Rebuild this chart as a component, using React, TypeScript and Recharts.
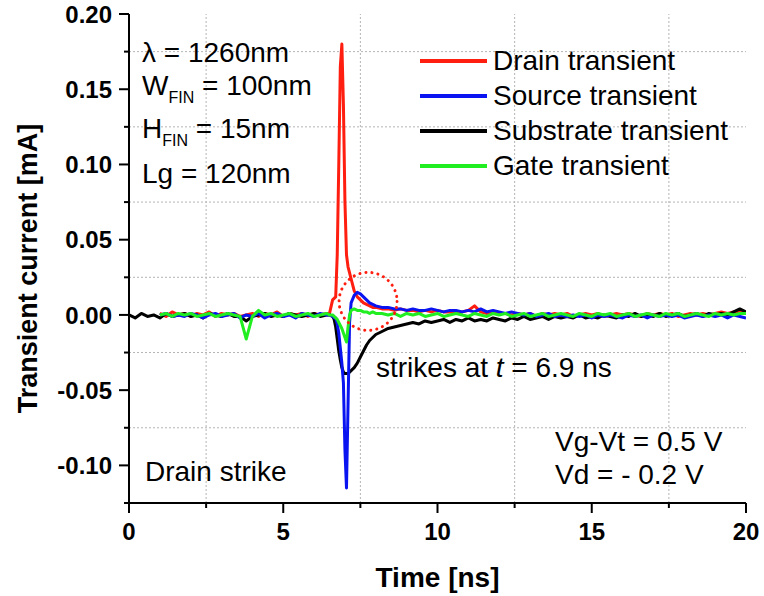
import React from 'react';
import { LineChart, Line, XAxis, YAxis, ReferenceLine, ReferenceDot, Legend } from 'recharts';

const FONT = '"Liberation Sans", Arial, Helvetica, sans-serif';

// time axis (ns)
const TIME_NS = [
  0, 0.2, 0.4, 0.6, 0.8, 1.0, 1.2, 1.4, 1.6, 1.8, 2.0, 2.2, 2.4, 2.6, 2.8, 3.0, 3.2, 3.4, 3.6, 3.8, 4.0, 4.2, 4.4, 4.6, 4.8, 5.0, 5.2, 5.4, 5.6, 5.8, 6.0, 6.2, 6.4,
  6.5, 6.6, 6.65, 6.7, 6.75, 6.8, 6.85, 6.9, 6.95, 7.0, 7.05, 7.1, 7.15, 7.2, 7.3, 7.4, 7.5, 7.6, 7.7, 7.8, 7.9, 8.0,
  8.2, 8.4, 8.6, 8.8, 9.0, 9.2, 9.4, 9.6, 9.8, 10.0, 10.2, 10.4, 10.6, 10.8, 11.0, 11.2, 11.4, 11.6, 11.8, 12.0,
  12.2, 12.4, 12.6, 12.8, 13.0, 13.2, 13.4, 13.6, 13.8, 14.0, 14.2, 14.4, 14.6, 14.8, 15.0, 15.2, 15.4, 15.6, 15.8, 16.0,
  16.2, 16.4, 16.6, 16.8, 17.0, 17.2, 17.4, 17.6, 17.8, 18.0, 18.2, 18.4, 18.6, 18.8, 19.0, 19.2, 19.4, 19.6, 19.8, 20.0,
];

// currents (mA)
const DRAIN_MA = [
  null, null, null, null, null,
  0.001, -0.001, 0.002, 0.000, 0.001, -0.001, 0.001, 0.000, 0.002, -0.001, 0.001, 0.000, 0.001, -0.001, 0.000, 0.001, -0.001, 0.001, 0.000, 0.002, -0.001, 0.001, 0.000, 0.001, -0.001, 0.001, 0.000, 0.001,
  0.001, 0.010, 0.011, 0.012, 0.040, 0.100, 0.165, 0.180, 0.140, 0.075, 0.040, 0.032, 0.028, 0.024, 0.016, 0.012, 0.010, 0.008, 0.007, 0.006, 0.005, 0.005,
  0.004, 0.004, 0.003, 0.004, 0.003, 0.003, 0.002, 0.003, 0.002, 0.003, 0.002, 0.002, 0.001, 0.002, 0.003, 0.006, 0.002, 0.001, 0.002, 0.001,
  0.001, 0.000, 0.001, 0.000, 0.001, -0.001, 0.001, 0.000, 0.001, 0.000, 0.001, -0.001, 0.000, 0.001, 0.000, 0.001, -0.001, 0.000, 0.001, 0.000,
  0.001, 0.000, -0.001, 0.001, 0.000, 0.001, 0.000, 0.001, -0.001, 0.000, 0.001, 0.000, 0.001, 0.000, 0.001, 0.002, 0.001, 0.002, 0.002, 0.001,
];

const SOURCE_MA = [
  null, null, null, null, null,
  0.000, 0.001, -0.001, 0.000, -0.001, 0.001, 0.000, -0.002, 0.000, 0.001, -0.001, 0.000, 0.001, -0.002, 0.000, -0.001, 0.001, -0.002, 0.000, 0.001, -0.001, 0.000, -0.002, 0.001, 0.000, -0.001, 0.001, 0.000,
  0.000, -0.001, -0.002, -0.002, -0.006, -0.012, -0.022, -0.032, -0.045, -0.090, -0.115, -0.060, -0.005, 0.008, 0.013, 0.015, 0.014, 0.012, 0.010, 0.008, 0.007, 0.006,
  0.005, 0.005, 0.004, 0.004, 0.003, 0.004, 0.003, 0.003, 0.004, 0.003, 0.002, 0.003, 0.003, 0.002, 0.003, 0.002, 0.004, 0.002, 0.003, 0.002,
  0.001, 0.002, 0.001, 0.000, 0.001, -0.001, 0.000, 0.001, -0.001, 0.000, -0.001, 0.000, -0.001, 0.000, -0.002, 0.000, -0.001, 0.000, -0.001, -0.002,
  0.000, -0.001, 0.000, -0.002, 0.000, -0.001, 0.000, -0.001, 0.000, -0.002, -0.001, 0.000, -0.001, 0.000, -0.001, 0.000, -0.002, 0.000, -0.001, -0.002,
];

const SUBSTRATE_MA = [
  0.000, -0.002, 0.001, -0.001, 0.000, -0.002, 0.001, -0.001, 0.000, 0.001, -0.001, 0.000, -0.002, 0.001, 0.000, -0.001, 0.001, -0.001, -0.001, -0.004, -0.001, 0.000, 0.001, -0.001, 0.000, -0.001, 0.001, 0.000, -0.001, 0.000, 0.001, -0.001, 0.000,
  0.000, -0.001, -0.003, -0.008, -0.016, -0.024, -0.030, -0.035, -0.038, -0.039, -0.039, -0.039, -0.038, -0.037, -0.035, -0.032, -0.028, -0.024, -0.020, -0.017, -0.015, -0.013,
  -0.011, -0.009, -0.008, -0.007, -0.006, -0.005, -0.006, -0.004, -0.005, -0.004, -0.003, -0.005, -0.003, -0.004, -0.002, -0.004, -0.003, -0.004, -0.002, -0.003,
  -0.004, -0.002, -0.003, -0.001, -0.003, -0.002, -0.001, -0.003, -0.001, -0.002, -0.001, -0.002, 0.000, -0.002, -0.001, -0.002, 0.000, -0.001, -0.002, 0.000,
  -0.001, 0.001, -0.001, 0.000, -0.001, 0.001, -0.001, 0.000, 0.001, -0.001, 0.000, 0.001, -0.001, 0.001, 0.000, 0.001, 0.000, 0.002, 0.004, 0.002,
];

const GATE_MA = [
  null, null, null, null, null,
  0.000, 0.001, -0.001, 0.001, 0.000, 0.001, -0.001, 0.000, 0.001, -0.001, 0.000, 0.001, 0.000, -0.001, -0.016, -0.001, 0.003, 0.000, 0.001, -0.001, 0.000, 0.001, -0.001, 0.000, 0.001, -0.001, 0.000, 0.001,
  0.000, 0.000, -0.001, -0.002, -0.003, -0.005, -0.007, -0.009, -0.012, -0.015, -0.018, -0.008, 0.000, 0.003, 0.004, 0.003, 0.003, 0.002, 0.002, 0.001, 0.002, 0.001,
  0.001, 0.000, 0.001, -0.001, 0.001, 0.000, 0.001, -0.001, 0.000, 0.001, -0.001, 0.000, 0.001, 0.000, -0.001, 0.001, 0.000, -0.001, 0.001, 0.000,
  0.001, -0.001, 0.000, 0.001, -0.001, 0.000, 0.001, -0.001, 0.000, 0.001, 0.000, -0.001, 0.001, 0.000, -0.001, 0.001, 0.000, 0.001, -0.001, 0.000,
  0.001, -0.001, 0.000, 0.001, 0.000, -0.001, 0.001, 0.000, 0.001, -0.001, 0.000, 0.001, 0.000, -0.001, 0.001, 0.000, 0.001, 0.000, 0.001, 0.001,
];

const X_DOMAIN = [0, 20];
const Y_DOMAIN = [-0.125, 0.2];
const X_TICKS = [0, 2.5, 5, 7.5, 10, 12.5, 15, 17.5, 20];
const X_GRID = [2.5, 7.5, 12.5, 17.5];
const Y_TICKS = [-0.125, -0.1, -0.075, -0.05, -0.025, 0, 0.025, 0.05, 0.075, 0.1, 0.125, 0.15, 0.175, 0.2];
const Y_GRID = [-0.075, -0.025, 0.025, 0.075, 0.125, 0.175];
const HIGHLIGHT_T = 7.75;
const HIGHLIGHT_I = 0.009;

const SERIES = [
  { key: 'drain', name: 'Drain transient', color: '#ff1e10' },
  { key: 'source', name: 'Source transient', color: '#0a14f0' },
  { key: 'substrate', name: 'Substrate transient', color: '#000000' },
  { key: 'gate', name: 'Gate transient', color: '#20ee20' },
];
const DRAW_ORDER = ['drain', 'substrate', 'source', 'gate'];

const ROWS = TIME_NS.map((t, i) => ({
  t,
  drain: DRAIN_MA[i],
  source: SOURCE_MA[i],
  substrate: SUBSTRATE_MA[i],
  gate: GATE_MA[i],
}));

const isMajorX = (v: number) => Math.abs(v / 5 - Math.round(v / 5)) < 1e-9;
const isMajorY = (v: number) => Math.abs(v * 20 - Math.round(v * 20)) < 1e-9;

const BottomTick = (p: any) => {
  const v = p.payload.value;
  const major = isMajorX(v);
  return (
    <g>
      <line x1={p.x} x2={p.x} y1={p.y} y2={p.y + (major ? 10 : 5)} stroke="#000" strokeWidth={2} />
      {major && (
        <text x={p.x} y={p.y + 37} textAnchor="middle" fontFamily={FONT} fontWeight="bold" fontSize={24} fill="#000">
          {v}
        </text>
      )}
    </g>
  );
};

const TopTick = (p: any) => {
  const major = isMajorX(p.payload.value);
  return <line x1={p.x} x2={p.x} y1={p.y} y2={p.y + (major ? 9 : 5)} stroke="#000" strokeWidth={2} />;
};

const LeftTick = (p: any) => {
  const v = p.payload.value;
  const major = isMajorY(v);
  return (
    <g>
      <line x1={p.x - (major ? 10 : 5)} x2={p.x} y1={p.y} y2={p.y} stroke="#000" strokeWidth={2} />
      {major && (
        <text x={p.x - 17} y={p.y} dy="0.36em" textAnchor="end" fontFamily={FONT} fontWeight="bold" fontSize={24} fill="#000">
          {v.toFixed(2)}
        </text>
      )}
    </g>
  );
};

const RightTick = (p: any) => {
  const major = isMajorY(p.payload.value);
  return <line x1={p.x - (major ? 9 : 5)} x2={p.x} y1={p.y} y2={p.y} stroke="#000" strokeWidth={2} />;
};

const XTitle = (p: any) => {
  const vb = p.viewBox;
  return (
    <text x={vb.x + vb.width / 2} y={vb.y + 84} textAnchor="middle" fontFamily={FONT} fontWeight="bold" fontSize={28} fill="#000">
      Time [ns]
    </text>
  );
};

const YTitle = (p: any) => {
  const vb = p.viewBox;
  const cx = vb.x + 28;
  const cy = vb.y + vb.height / 2 + 10;
  return (
    <text x={cx} y={cy} transform={`rotate(-90 ${cx} ${cy})`} dy="0.35em" textAnchor="middle" fontFamily={FONT} fontWeight="bold" fontSize={27} fill="#000">
      Transient current [mA]
    </text>
  );
};

const renderLegend = (props: any) => {
  const payload = props.payload || [];
  const ordered = SERIES.map((s) => payload.find((e: any) => e.dataKey === s.key)).filter(Boolean);
  return (
    <div>
      {ordered.map((e: any) => (
        <div key={e.dataKey} style={{ display: 'flex', alignItems: 'center', height: 35 }}>
          <span style={{ display: 'inline-block', width: 67, height: 4, background: e.color, marginRight: 6 }} />
          <span style={{ fontFamily: FONT, fontSize: 28, color: '#000', whiteSpace: 'nowrap' }}>{e.value}</span>
        </div>
      ))}
    </div>
  );
};

export default function App() {
  return (
    <div style={{ position: 'absolute', left: 0, top: 0, width: 764, height: 596, background: '#fff' }}>
      <LineChart width={764} height={596} data={ROWS} margin={{ top: 14, right: 18, bottom: 0, left: 0 }}>
        <XAxis xAxisId="b" dataKey="t" type="number" domain={X_DOMAIN} ticks={X_TICKS} interval={0} allowDataOverflow
          tickSize={0} tickMargin={0} tick={BottomTick} tickLine={false} axisLine={{ stroke: '#000', strokeWidth: 2 }} height={93} label={XTitle} />
        <XAxis xAxisId="t" orientation="top" type="number" domain={X_DOMAIN} ticks={X_TICKS} interval={0} allowDataOverflow
          tickSize={0} tickMargin={0} tick={TopTick} tickLine={false} axisLine={{ stroke: '#000', strokeWidth: 2 }} height={0} />
        <YAxis yAxisId="l" type="number" domain={Y_DOMAIN} ticks={Y_TICKS} interval={0} allowDataOverflow
          tickSize={0} tickMargin={0} tick={LeftTick} tickLine={false} axisLine={{ stroke: '#000', strokeWidth: 2 }} width={129} label={YTitle} />
        <YAxis yAxisId="r" orientation="right" type="number" domain={Y_DOMAIN} ticks={Y_TICKS} interval={0} allowDataOverflow
          tickSize={0} tickMargin={0} tick={RightTick} tickLine={false} axisLine={{ stroke: '#000', strokeWidth: 2 }} width={0} />
        {Y_GRID.map((v) => (
          <ReferenceLine key={'gy' + v} xAxisId="b" yAxisId="l" y={v} stroke="#b4b4b4" strokeWidth={1} strokeDasharray="2 2" />
        ))}
        {X_GRID.map((v) => (
          <ReferenceLine key={'gx' + v} xAxisId="b" yAxisId="l" x={v} stroke="#b4b4b4" strokeWidth={1} strokeDasharray="2 2" />
        ))}
        {DRAW_ORDER.map((k) => {
          const s = SERIES.find((x) => x.key === k)!;
          return (
            <Line key={k} xAxisId="b" yAxisId="l" type="linear" dataKey={k} name={s.name} stroke={s.color} strokeWidth={3}
              dot={false} activeDot={false} isAnimationActive={false} strokeLinejoin="round" />
          );
        })}
        <ReferenceDot xAxisId="b" yAxisId="l" x={HIGHLIGHT_T} y={HIGHLIGHT_I} r={29} fill="none" stroke="#ff1e10"
          strokeWidth={3} strokeDasharray="0.1 6" strokeLinecap="round" />
        <Legend layout="horizontal" verticalAlign="middle" align="center" content={renderLegend}
          wrapperStyle={{ left: 420, top: 43, width: 'auto', height: 'auto' }} />
      </LineChart>
      <svg width={764} height={596} style={{ position: 'absolute', left: 0, top: 0, pointerEvents: 'none' }}
        fontFamily={FONT} fontSize={28} fill="#000">
        <text x={142} y={62}>λ = 1260nm</text>
        <text x={142} y={95}>W<tspan fontSize={16} dy={8}>FIN</tspan><tspan dy={-8}>{' = 100nm'}</tspan></text>
        <text x={142} y={138}>H<tspan fontSize={16} dy={8}>FIN</tspan><tspan dy={-8}>{' = 15nm'}</tspan></text>
        <text x={142} y={183}>Lg = 120nm</text>
        <text x={376} y={377}>{'strikes at '}<tspan fontStyle="italic">t</tspan>{' = 6.9 ns'}</text>
        <text x={555} y={451}>Vg-Vt = 0.5 V</text>
        <text x={555} y={484}>Vd = - 0.2 V</text>
        <text x={145} y={481}>Drain strike</text>
      </svg>
    </div>
  );
}
